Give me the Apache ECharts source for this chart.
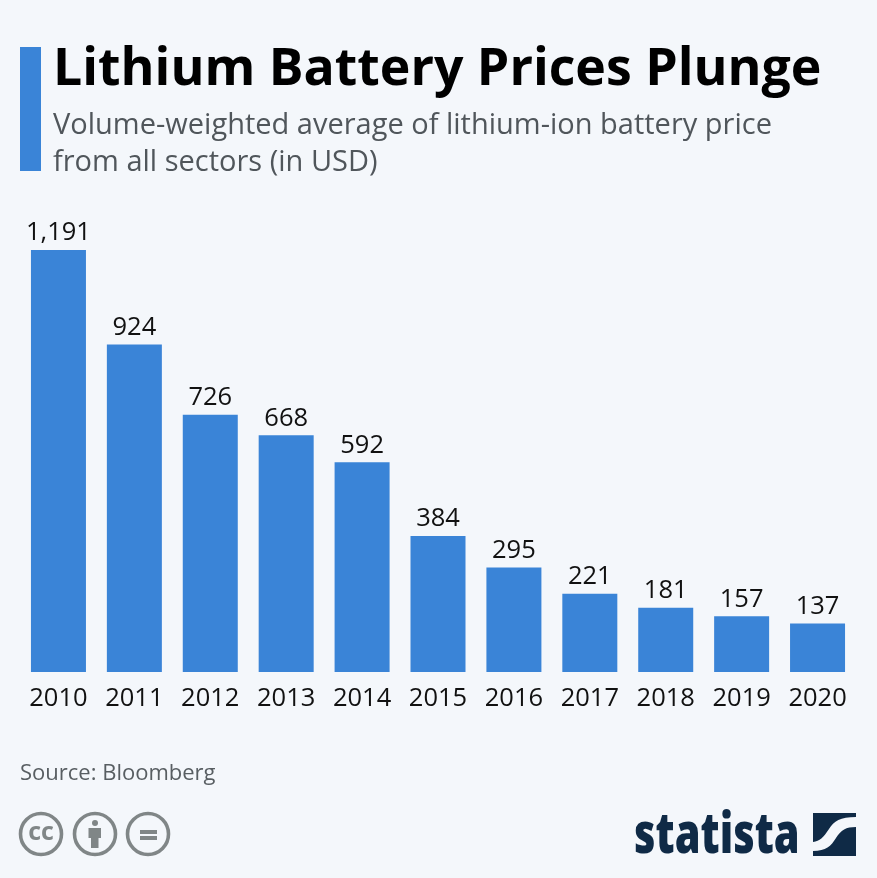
<!DOCTYPE html>
<html>
<head>
<meta charset="utf-8">
<title>Lithium Battery Prices Plunge</title>
<script src="https://cdn.jsdelivr.net/npm/echarts@6/dist/echarts.min.js"></script>
<style>
  html, body { margin: 0; padding: 0; background: #f4f7fb; }
  #chart { width: 877px; height: 878px; }
</style>
</head>
<body>
<div id="chart"></div>
<script>
const years = ['2010', '2011', '2012', '2013', '2014', '2015', '2016', '2017', '2018', '2019', '2020']
const prices = [1191, 924, 726, 668, 592, 384, 295, 221, 181, 157, 137]

const FONT = '"Open Sans", sans-serif'
const BLUE = '#3a84d7'
const NAVY = '#0f2a46'
const ICON_GREY = '#808687'

// the graphic component has no plain path type, so the logo shapes get registered
const shapes = {
  byPerson: 'M88.5 828H101V838H98.5V848H91V838H88.5Z',
  logoTop: 'M813 813H856V817C840 817 834 821 829 829C823 838 820 841 813 842Z',
  logoBottom: 'M856 827V856H813V851C826 851 831 846 836 838C841 830 846 827 856 827Z'
}
Object.keys(shapes).forEach(name => {
  echarts.graphic.registerShape(name, echarts.graphic.extendPath(shapes[name], {}))
})

// cc / by / nd icons, bottom left
const iconRing = cx => ({
  type: 'circle',
  shape: { cx: cx, cy: 834, r: 20.5 },
  style: { fill: 'none', stroke: ICON_GREY, lineWidth: 3.6 }
})

const myChart = echarts.init(document.getElementById('chart'))
myChart.setOption({
  animation: false,
  backgroundColor: '#f4f7fb',
  title: [
    {
      text: 'Lithium Battery Prices Plunge',
      left: 53,
      top: 36,
      padding: 0,
      textStyle: { fontFamily: FONT, fontWeight: 700, fontSize: 51.8, color: '#000', lineHeight: 68 }
    },
    {
      text: 'Volume-weighted average of lithium-ion battery price\nfrom all sectors (in USD)',
      left: 53,
      top: 107,
      padding: 0,
      textStyle: { fontFamily: FONT, fontWeight: 400, fontSize: 29, color: '#50565b', lineHeight: 37 }
    },
    {
      text: 'Source: Bloomberg',
      left: 20,
      top: 760,
      padding: 0,
      textStyle: { fontFamily: FONT, fontWeight: 400, fontSize: 22, color: '#585e62', lineHeight: 27 }
    }
  ],
  grid: { left: 20.5, right: 21.5, top: 250, height: 422 },
  xAxis: {
    type: 'category',
    data: years,
    axisLine: { show: false },
    axisTick: { show: false },
    axisLabel: { margin: 14, fontFamily: FONT, fontSize: 25.5, color: '#111' }
  },
  yAxis: {
    type: 'value',
    min: 0,
    max: 1191,
    show: false
  },
  series: [
    {
      type: 'bar',
      data: prices,
      barWidth: 55,
      itemStyle: { color: BLUE },
      label: {
        show: true,
        position: 'top',
        distance: 4,
        fontFamily: FONT,
        fontSize: 25.5,
        color: '#111',
        formatter: p => p.value.toLocaleString('en-US')
      }
    }
  ],
  graphic: [
    { type: 'rect', shape: { x: 20, y: 47, width: 21, height: 124 }, style: { fill: BLUE } },

    iconRing(41),
    iconRing(95),
    iconRing(148),
    {
      type: 'text',
      style: {
        x: 41, y: 833, text: 'cc', align: 'center', verticalAlign: 'middle',
        fontFamily: FONT, fontWeight: 700, fontSize: 25, fill: ICON_GREY
      }
    },
    { type: 'circle', shape: { cx: 95, cy: 823, r: 3 }, style: { fill: ICON_GREY } },
    { type: 'byPerson', style: { fill: ICON_GREY } },
    { type: 'rect', shape: { x: 140, y: 830, width: 17, height: 4 }, style: { fill: ICON_GREY } },
    { type: 'rect', shape: { x: 140, y: 836, width: 17, height: 4 }, style: { fill: ICON_GREY } },

    // statista logo
    {
      type: 'text',
      x: 634,
      y: 837,
      scaleX: 0.77,
      scaleY: 1.06,
      style: {
        x: 0, y: 0, text: 'statista', align: 'left', verticalAlign: 'middle',
        fontFamily: FONT, fontWeight: 800, fontSize: 54, fill: NAVY
      }
    },
    { type: 'logoTop', style: { fill: NAVY } },
    { type: 'logoBottom', style: { fill: NAVY } }
  ]
})
</script>
</body>
</html>
